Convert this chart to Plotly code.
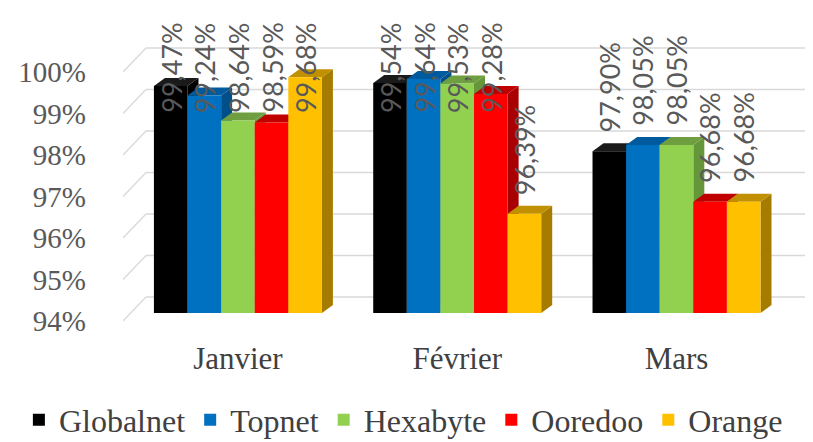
import plotly.graph_objects as go

months = ["Janvier", "Février", "Mars"]
series_names = ["Globalnet", "Topnet", "Hexabyte", "Ooredoo", "Orange"]
globalnet = [99.47, 99.54, 97.90]
topnet = [99.24, 99.64, 98.05]
hexabyte = [98.64, 99.53, 98.05]
ooredoo = [98.59, 99.28, 96.68]
orange = [99.68, 96.39, 96.68]
colors = ["#000000", "#0070C0", "#92D050", "#FF0000", "#FFC000"]
side_colors = ["#000000", "#004F8A", "#66963A", "#A80000", "#A67C00"]
top_colors = ["#1A1A1A", "#005A9E", "#6F9E40", "#C00000", "#C09000"]
y_ticks = [94, 95, 96, 97, 98, 99, 100]

values = [globalnet, topnet, hexabyte, ooredoo, orange]

SERIF = "Liberation Serif"
LABEL_FONT = "Lato"
W, H = 813, 442
ML, MR, MT, MB = 115, 13, 8, 119
PPU = 41.5                      # pixels per 1 % on the y axis
PPC = 219.3                     # pixels per category on the x axis
BARGAP = 0.234
plot_h = H - MT - MB
plot_w = W - ML - MR
Y0 = 94
y_bottom = Y0 - 18 / PPU
y_top = y_bottom + plot_h / PPU
x_left = -0.5 - 0.024
x_right = x_left + plot_w / PPC

fig = go.Figure()
for name, vals, col in zip(series_names, values, colors):
    fig.add_trace(go.Bar(
        name=name, x=months, y=[v - Y0 for v in vals], base=Y0,
        marker=dict(color=col, line=dict(width=0)),
        hoverinfo="name+y",
    ))

# pseudo-3D: back wall gridlines, bar side / top faces
wall_dx = 23 / PPC
wall_dy = 16 / PPU
front_dy = 8 / PPU
shapes = []
for t in y_ticks:
    shapes.append(dict(type="line", xref="x", yref="y",
                       x0=x_left + wall_dx, x1=x_right, y0=t + wall_dy, y1=t + wall_dy,
                       line=dict(color="#D9D9D9", width=1.3), layer="between"))
    shapes.append(dict(type="line", xref="x", yref="y",
                       x0=x_left, x1=x_left + wall_dx, y0=t - front_dy, y1=t + wall_dy,
                       line=dict(color="#D9D9D9", width=1.3), layer="between"))

dx = 11 / PPC
dy = 8 / PPU
n = len(series_names)
bw = (1 - BARGAP) / n
annotations = []
gap = 17 / PPU
label_len = 98 / PPU
label_top = y_top - 5 / PPU
for j, (vals, sc, tc) in enumerate(zip(values, side_colors, top_colors)):
    for i, v in enumerate(vals):
        x0 = i - (1 - BARGAP) / 2 + j * bw
        x1 = x0 + bw
        side = f"M{x1},{Y0} L{x1+dx},{Y0+dy} L{x1+dx},{v+dy} L{x1},{v} Z"
        top = f"M{x0},{v} L{x0+dx},{v+dy} L{x1+dx},{v+dy} L{x1},{v} Z"
        shapes.append(dict(type="path", path=side, xref="x", yref="y",
                           fillcolor=sc, line=dict(width=0), layer="between"))
        shapes.append(dict(type="path", path=top, xref="x", yref="y",
                           fillcolor=tc, line=dict(width=0), layer="between"))
        txt = f"{v:.2f}%".replace(".", ",")
        if v + gap + label_len > label_top:
            ly, anchor = label_top, "top"
        else:
            ly, anchor = v + gap, "bottom"
        annotations.append(dict(
            x=(x0 + x1) / 2, y=ly, xref="x", yref="y", text=txt,
            textangle=-90, showarrow=False, xanchor="center", yanchor=anchor,
            font=dict(family=LABEL_FONT, size=27, color="#595959"),
        ))

fig.update_layout(
    width=W, height=H,
    barmode="group", bargap=BARGAP, bargroupgap=0,
    plot_bgcolor="white", paper_bgcolor="white",
    margin=dict(l=ML, r=MR, t=MT, b=MB, autoexpand=False),
    font=dict(family=SERIF, color="#595959"),
    shapes=shapes, annotations=annotations,
    yaxis=dict(range=[y_bottom, y_top], tickvals=y_ticks,
               ticktext=[f"{t}%" for t in y_ticks],
               tickfont=dict(family=SERIF, size=29, color="#595959"),
               showgrid=False, zeroline=False, showline=False, ticks="",
               ticklabelstandoff=36, ticklabelshift=8),
    xaxis=dict(range=[x_left, x_right],
               tickfont=dict(family=SERIF, size=31, color="#404040"),
               showgrid=False, showline=False, ticks="", ticklabelstandoff=6),
    legend=dict(orientation="h", x=-0.152, xanchor="left",
                y=-0.195, yanchor="top",
                font=dict(family=SERIF, size=32, color="#404040"),
                itemwidth=30, traceorder="normal"),
)

fig.write_html("out.html")
